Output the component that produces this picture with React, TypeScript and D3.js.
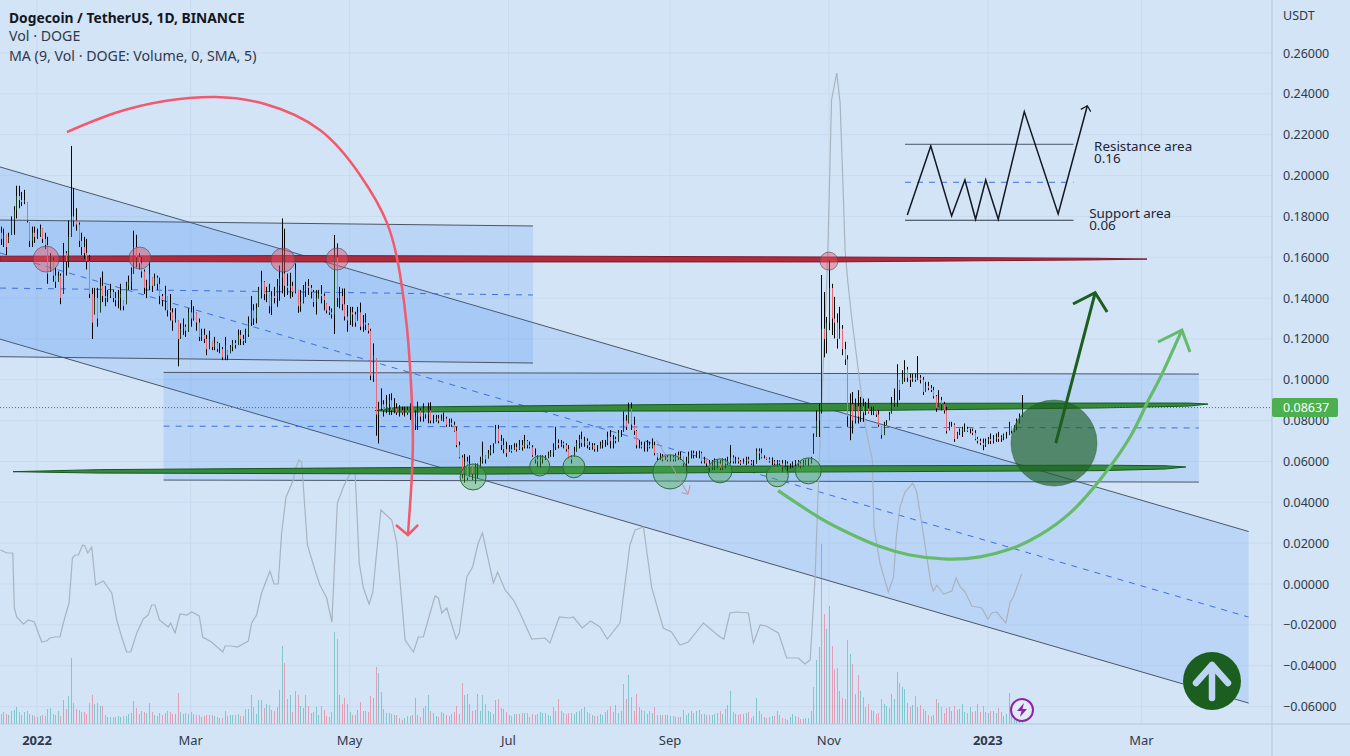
import * as d3 from "d3";

const WIDTH = 1350;
const HEIGHT = 756;
const PLOT_RIGHT = 1272;
const PLOT_BOTTOM = 724;

// candles, in 1/1000 USDT, first bar is 18 Dec 2021
const highs = [
  175,174,171,172,180,185,195,195,192,193,
  187,177,175,175,174,176,174,172,170,162,
  160,155,153,152,167,163,178,214.5,194,184,
  177,172,170,169,161,145,145,145,150,153,
  146,144,147,144,143,144,147,139,148,151,
  155,173,171,162,160,154,149,158,150,152,
  151,150,142,146,141,142,135,135,129,127.6,
  130,127,135,139,136,133,130,125,125,122,
  124,119,121,118.6,118,116,121,114.5,117,119.4,
  119.4,124.6,124.3,122,125,131,141,137,137.4,145.5,
  153.4,148.3,145.5,147,143.4,145.5,149.3,156,179,174,
  152,152.4,148,157,144,144,146.4,148,149.3,146.4,
  144,143.9,144,146.4,142.3,137.4,136,135,170.9,166.8,
  145.5,144.7,144.7,136.6,135.7,135.7,133.3,135.7,137.8,131.7,
  132.5,127.6,125,117.8,110.4,89.2,
  95.8,90,92.5,93,93.4,91,88.5,87.6,86.8,86.8,
  86.8,88.5,88.5,85,89.3,86,88.5,85,88.8,89,
  82.8,82.8,82.8,83,83.9,81.9,81,81,79.5,77,
  69.7,63,63.6,62.3,63,58.3,59,59,62.3,69.7,
  63,65.6,68,68.9,77.9,77.9,73,71.3,69.7,68,
  68,68.9,68.9,70.5,70.5,73,70.5,69.7,68,66.4,
  63,63,63,63,64.8,65.6,68.9,77,70.8,70.5,
  69.7,68.9,68,63,67.2,70.5,73,74.6,72.1,71.3,
  69.7,69,68.9,68,69.7,70.5,70.5,74.6,75.4,73,
  72.1,75.4,75.4,84.4,82.8,88.8,88.8,81.9,75.4,70.5,
  69.7,69.7,70.5,69.7,71.3,69.7,64,64,63.6,63.6,
  63,63,63,64,64.8,64.8,62.3,62.3,64.8,65.3,
  65.3,65,65.3,64.8,62.3,60.7,60.7,60.7,61.5,60.7,
  60.7,61.5,61.5,62.3,68,63,62.3,62,60.7,61.5,
  62.3,62.3,60.7,60.7,66.4,66.4,66.4,63,62,62,
  62,60.7,60.7,60.5,60.7,60.7,60,59,60,60.7,
  60.7,60,60.7,61,61.5,62.3,
  73.7,85,88.4,151.3,143,130.8,158.6,147,140.6,132.5,
  135.7,126.8,118.6,112,93.3,94,90.8,94.9,91.6,90.8,
  89.2,90.8,86.8,86.8,85,85,77,79.4,80.2,84.3,
  91.6,95.7,107.6,99.8,104.7,109.6,106.3,103,103,103,
  111.6,102.3,101.4,99,99,97.4,96.5,92.5,94.9,91.6,
  89.2,86.8,79.4,79.4,78.6,74.5,76.1,77,78.6,77,
  76.1,76.1,75.3,72,71.2,71.2,71.2,72,73.7,72.9,
  73.7,74.5,72.9,73.7,74.5,79.4,77,77.8,81,83.5,
  92.5,
];
const lows = [
  166,165,161,167,171,171,179,184,185,186,
  177,165,165,167,169,170,167,164,147,153,
  148,145,148,137,142,151,155,170,175,173,
  165,161,159,154,140,120,132,126,133,138,
  136,138,140,138,136,135,134,134,137,144,
  144,152,155,154,150,142,140,144,143,146,
  144,137,136,134,131,129,124,128,106.6,120,
  122,121,123.5,126,129,124,119,119,118,112,
  115,114.5,114.5,113.7,113,109.6,109.6,109.6,113,114,
  115.3,117,117,117,118,121,126.4,126.8,127.6,135.7,
  139.8,139,138,132.5,131.7,137.4,135.7,138.7,142.3,140.6,
  141.5,139.8,140.6,142.3,132.8,133.3,137.4,140.6,141.5,139.8,
  135.7,132,139.8,137.4,134,132.5,131.7,130,122.4,135.7,
  135,134,129,123.5,126.8,126,126,129,124.3,123.5,
  124.3,122.7,99.8,99,72.6,68.8,
  85,82,83.6,82.8,82.8,83.6,82.8,82,82.8,82,
  82.8,80.3,75.4,75.4,75.4,79.5,79.5,81,78.7,78.7,
  78.7,79.5,78.7,80,79.5,77,77,77,74.6,67,
  61.5,51.7,49.6,50.9,52.5,50.9,49,51.7,56.6,59,
  59,61.5,63,64,68.9,68.9,65.6,64,62.3,64.8,
  64.3,65.6,64.8,65.6,65.3,66.4,66.4,66.4,62.3,59,
  57.4,57,59,60.7,61.5,62.3,62.3,65.6,66.4,67.2,
  66.4,64.8,61.5,59,62.3,64.8,66.4,67.2,67.2,66.4,
  65.6,65.8,64.8,64.8,66.4,66.4,67.2,68,66.4,66.4,
  68.9,69.7,72,74.6,75.4,78.7,75.4,73,66.4,66.4,
  66.4,64.8,64.8,66.4,66.4,63,60.7,60.7,60,60.7,
  60,60,60,60,60.7,60.7,57.4,55,59,61.5,
  61.5,61.8,61.5,59,59,57.4,55,55.8,55.8,56.6,
  55.8,55.8,56.6,58.2,59,59,59,59,58.2,59,
  58.2,59,58.2,57.8,59,60.7,61.5,61.5,60.7,59.4,
  58.2,57.4,57.4,58,55,57.4,54.2,56.6,57,57.8,
  57.4,56.6,57.4,58.2,57.8,59,
  63.9,72,72,83.5,111,112.9,124.3,121.9,120.2,115.3,
  120.2,112,107.2,77,70.4,73.7,78.6,78.6,79.4,79.4,
  82.7,83.5,82.7,82.7,81.8,77,71.2,72.9,77.8,80.2,
  83.5,86.8,86.8,90,98,99,99,96.5,99,99,
  99.8,98.2,92.5,94,94.9,94,90.8,84.3,86.8,85,
  83.5,73.7,75.3,77,69.6,71.2,72.9,72,74.5,74.5,
  73.7,72.9,70.4,68.8,68,65.5,67.1,68.5,68.5,68.8,
  69.6,69.6,69.6,70.4,71.2,72.9,73.7,74.5,75.3,78.6,
  81.8,
];
const closes = [
  169,171,165,170,178,183,190,188,187,188,
  178,168,172,170,171,174,169,166,152,158,
  151,148,151,140,162,158,170,180,178,176,
  168,165,162,158,142,128,140,130,146,141,
  140,141,143,140,139,140,142,136,146,148,
  152,165,160,157,153,145,146,152,146,150,
  147,141,139,142,134,133,129,130,120,125,
  126,124,133,130,133,128,121,122,120,115,
  120,116,118,115,115,111,117,112,116,118,
  117,122,120,119,122,128,134,130,135,144,
  148,142,143,136,141,140,146,150,152,146,
  145,146,143,154,136,138,144,146,145,143,
  138,140,142,141,139,134,133,132,160,140,
  141,137,131,129,133,132,128,133,126,128,
  127,124,102,112,83,86,
  88,85,88,90,85,86,84,85,84,85,
  84,85,78,82,85,82,86,83,85,80,
  80,81,80,81,81,78,79,78,75,68,
  62,54,60,52,59,54,57,57,60,63,
  61,64,66,67,76,70,68,66,64,66,
  65,67,66,68,67,70,68,67,63,61,
  60,61,62,62,63,64,67,69,68,69,
  68,66,62,61,65,69,71,69,70,68,
  67,68,66,66,68,69,69,72,70,71,
  70,74,74,80,77,86,78,75,68,68,
  67,67,68,67,68,64,62,62,61,62,
  61,62,61,63,62,63,59,60,63,64,
  63,63,64,60,61,59,57,58,59,59,
  57,60,59,60,62,60,61,60,59,60,
  61,60,59,59,65,64,62,62,61,60,
  60,59,60,59,58,59,58,58,59,60,
  59,58,59,60,60,61,
  72,80,85,125,120,128,145,130,128,120,
  125,115,110,82,88,80,87,82,87,84,
  86,84,84,85,83,78,73,78,79,83,
  88,90,102,95,101,105,101,100,101,100,
  101,100,94,97,96,95,92,86,90,88,
  85,75,78,78,71,74,75,76,76,75,
  75,74,71,70,69,68,70,71,70,71,
  72,71,72,73,73,77,75,77,80,82,
  86.37,
];
const firstOpen = 172;

// volume, in hundreds of millions of DOGE
const volumes = [
  10,12,10,9,13,14,17,12,9,12,
  13,10,9,8,7,8,9,8,15,16,
  10,9,13,8,24,15,28,66,21,15,
  14,12,12,10,21,29,20,21,18,18,
  9,7,7,7,7,8,7,8,8,10,
  11,23,16,10,13,12,11,21,12,9,
  8,11,9,11,13,12,10,10,31,12,
  10,11,10,12,10,9,9,7,8,9,
  9,9,8,7,6,6,13,8,9,9,
  9,10,8,8,15,15,29,17,10,24,
  24,16,20,19,14,13,17,34,78,61,
  25,29,12,33,29,18,16,29,18,11,
  12,17,9,18,14,8,7,12,92,85,
  29,20,26,20,12,9,9,14,22,13,
  13,12,28,26,57,51,32,15,11,11,
  10,9,9,6,4,6,8,8,9,26,
  9,7,16,18,29,13,11,8,7,12,
  11,9,8,10,12,18,10,41,29,30,
  20,13,14,30,13,29,20,13,12,10,
  24,25,16,15,12,9,8,10,10,10,
  11,11,11,7,10,9,10,12,11,11,
  9,8,17,13,25,13,11,10,11,11,
  10,12,13,15,17,12,11,9,8,8,
  10,9,12,14,18,12,19,11,13,40,
  25,49,27,13,30,17,14,13,10,13,
  11,17,9,9,9,9,9,8,8,7,
  7,7,14,9,11,13,11,13,14,10,
  10,9,9,9,10,11,13,10,15,19,
  33,12,10,9,10,10,11,12,6,8,
  26,13,10,7,6,7,8,8,13,9,
  6,5,4,7,10,8,7,5,5,6,
  6,13,37,64,77,180,110,95,118,78,
  55,56,33,26,25,84,70,60,30,49,
  33,27,17,20,14,13,10,11,25,20,
  18,16,30,25,52,41,37,35,21,17,
  19,28,17,19,15,13,9,8,9,25,
  21,17,11,16,17,13,18,14,15,20,
  12,11,17,12,13,20,12,18,12,11,
  13,13,11,16,12,8,10,31,13,9,
  6,6,4,
];

// MA of the volume, read at its turning points
const maDays = [
  0,2.4,4.7,5.3,6.2,8.8,10.7,13,15.8,17.7,19,20.9,22.8,24.1,26.3,27.6,28.6,29.9,31.5,32.4,33.5,35,36.5,39.5,42.7,44.6,46.5,48.4,50,52.3,
  54.8,56.7,58,59.3,61,64.4,65.3,67,68.9,71.5,73.4,76.3,77.6,81,85.3,86.2,88.7,90.9,95.1,96.4,98.3,100.2,103.4,105,106.6,107.9,109.6,112.4,113,114.6,
  115.6,117.8,120.7,122.6,125.2,127.2,129.3,131.6,134.2,136.1,137.7,139.3,141.5,142.9,146,150.2,152.1,155.3,158.5,160.4,162.3,164.9,166.8,168.1,169.4,171.3,174.9,176.1,179,181.2,
  183.4,185,189.2,190.8,193.7,196.9,199.4,203.9,209,210.9,214.5,218.3,219.9,223.3,226.5,230.1,232.9,237.8,241.6,243.6,246.8,250,254.4,257.6,260.8,264,269.8,276.2,277.7,280,
  282.6,287.1,289,291.6,293.9,298.6,301.8,306.3,308.8,310.8,312.7,314.3,317.5,319,321,322.3,323.5,324.2,325.3,326.7,329.9,332.2,334.7,335.3,337.6,340.8,342.8,344,345.3,347.2,
  350.2,351.7,353.6,357.1,358.1,359.4,362,365.2,366.8,368.4,370.3,372.8,376.7,379,380.5,382.4,385.9,387.6,388.8,392,
];
const maValues = [
  17.5,17.2,17.2,11.7,10.8,10.1,10.5,10.3,8.3,8.4,8.7,8.8,8.8,10.2,12.2,16.7,17,17,18,17.9,17.2,17.8,14,14.4,13.2,10.5,8.8,7.3,7.3,9.2,
  10.6,11,12,12,10.5,9.8,10.2,9.2,11.1,11,11.3,10.9,8.8,8.3,7.3,7.9,7.9,7.8,8.4,10.2,11,13.2,15.4,14.1,14.1,19.2,22.8,24.5,25.5,26.5,
  26.3,18,15.5,14,12.7,10.3,22.2,23.8,25.2,25.3,16.2,13.7,12.1,13.3,21.5,20.5,18.2,8.5,7.3,8.8,8.8,11.2,12.9,12.7,11.2,11.7,8.6,9.2,14.8,15.8,
  18.2,19.2,14.2,15.3,13.5,12.5,11.2,8.6,8.7,8.2,10.8,10.7,10.8,9.7,10.4,9.8,8.6,10.2,18,19.5,19.8,13.7,9.7,9.3,8,8.3,10.2,8.8,8.6,11.2,
  11.3,11.2,8.2,10,9.9,9.2,6.7,6.7,6.1,6.5,14.8,26.5,46.5,62.5,65.2,62.2,53.2,47.5,44.2,40.8,34.2,29.5,26.5,19.8,16.2,13.3,14.8,19.2,21.8,23.3,
  24.2,23.3,20.2,14.2,13.4,14,13.1,13.4,14.7,13.8,13.3,11.9,11.7,10.6,11.2,11.3,10.2,12.3,12.8,15.1,
];

const priceTicks = d3.range(-60, 261, 20);
const lastPrice = 86.37;
const timeTickDays = [14, 73, 134, 195, 257, 318, 379, 438];
const timeTickLabels = ["2022", "Mar", "May", "Jul", "Sep", "Nov", "2023", "Mar"];
const boldTimeTicks = ["2022", "2023"];

// drawings on the chart, as [day, price] pairs
type Pt = [number, number];
const channelBig: Pt[][] = [[[-0.2, 204.2], [479.1, 25.7]], [[-0.2, 162.1], [479.1, -16.2]], [[-0.2, 119.9], [479.1, -58.3]]];
const channelLeft: Pt[][] = [[[-0.2, 178.2], [204.4, 175.3]], [[-0.2, 144.9], [204.4, 141.5]], [[-0.2, 111.3], [204.4, 108.2]]];
const channelLow: Pt[][] = [[[62.6, 103.6], [460, 102.8]], [[62.6, 77.3], [460, 76.4]], [[62.6, 50.9], [460, 49.9]]];

const redBar: Pt[] = [[-0.2, 160.5], [115, 160.8], [191.7, 160.6], [318.4, 160.1], [420, 159.5], [440.1, 159.1], [420, 158.7], [318.4, 157.7], [115, 157.7], [-0.2, 158]];
const greenBarTop: Pt[] = [[143.8, 84.9], [153, 86.6], [230, 87.6], [314.6, 88.4], [422, 88.6], [456, 88.6], [463.5, 88.1], [456, 87.1], [422, 86.2], [314.6, 84.7], [230, 84.7], [153, 84.2]];
const greenBarLow: Pt[] = [[4.8, 55], [38, 56], [187.9, 57.3], [306.9, 57.8], [422, 58.2], [447, 57.9], [455, 57.3], [447, 56.3], [422, 55.5], [306.9, 54.8], [187.9, 53.8], [38, 54.3]];

const pinkCircles: [number, number, number][] = [[17.5, 159.1, 13], [53.5, 159.6, 11], [108.4, 158.6, 12], [129.2, 159.1, 11], [318, 158.1, 9]];
const greenCircles: [number, number, number][] = [[181.4, 52.4, 13], [207, 57.8, 10], [220.1, 57.4, 11], [257, 54.9, 17], [276.2, 55.4, 12], [298.2, 53, 11], [310.1, 55.4, 13]];
const bigCircle: [number, number, number] = [404.4, 69, 43];

const redCurve: Pt[] = [[25.5, 221.3], [43.9, 230.6], [63.1, 236.5], [82.3, 238.5], [101.5, 235], [122.6, 222.3], [138, 200.3], [148.4, 176.7], [153.4, 151.3], [156.1, 124.4], [157.6, 97.4], [158.3, 70.5], [157.6, 46], [156.4, 24]];
const redHead: Pt[] = [[151.8, 28.9], [156.4, 24], [160.3, 28.9]];
const greenCurve: Pt[] = [[298.5, 45.7], [314.6, 32.3], [327.2, 24], [336.8, 18.7], [349.1, 14.2], [363.3, 12.2], [376, 13.3], [388.7, 17.6], [399, 24], [410.5, 34.7], [422, 50.9], [433.6, 72], [440.1, 88.6], [445.1, 100.8], [453.5, 124.3]];
const greenHead: Pt[] = [[444.3, 118.5], [453.5, 124.3], [456.6, 113.6]];
const darkArrow: Pt[] = [[405.1, 69], [420.2, 142.6]];
const darkHead: Pt[] = [[411.7, 137.1], [420.2, 142.6], [424.8, 133.2]];
const smallArrow: Pt[] = [[251.9, 70.5], [263.9, 44]];
const smallHead: Pt[] = [[261.5, 44.7], [263.9, 44], [264.7, 48.4]];

const patternTop: Pt[] = [[347.2, 215.3], [411.9, 215.3]];
const patternMid: Pt[] = [[347.2, 196.7], [411.9, 196.7]];
const patternLow: Pt[] = [[347.2, 178.1], [411.9, 178.1]];
const zigzag: Pt[] = [[348.1, 180.7], [357.1, 214.5], [365.1, 180.2], [370.2, 197.8], [374.3, 178.6], [378.2, 197.8], [383, 178.6], [393, 231.3], [406, 181.2], [417.2, 234.2]];
const zigzagHead: Pt[] = [[414.7, 232.4], [417.2, 234.2], [418.5, 231.3]];

const notes: [string, number, number][] = [
  ["Resistance area", 419.8, 212.2],
  ["0.16", 419.8, 206.3],
  ["Support area", 417.9, 179.4],
  ["0.06", 417.9, 173.5],
];

const FONT = "'Noto Sans', 'Open Sans', sans-serif";
const BG = "#d3e4f7";
const GRID = "#c9dbf0";
const TEXT = "#2f3a4a";

const x = d3.scaleLinear().domain([0, 424]).range([0.53, 0.53 + 424 * 2.605]);
const y = d3.scaleLinear().domain([0, 260]).range([584, 53]);
const volY = d3.scaleLinear().domain([0, 180]).range([PLOT_BOTTOM, PLOT_BOTTOM - 180]);
const maY = d3.scaleLinear().domain([0, 70]).range([725, 25]);

const pathOf = d3.line<Pt>().x((d) => x(d[0])).y((d) => y(d[1]));
const smoothOf = d3.line<Pt>().x((d) => x(d[0])).y((d) => y(d[1])).curve(d3.curveNatural);
const maPath = d3.line<number>().x((_, i) => x(maDays[i])).y((d) => maY(d));

const opens = [firstOpen, ...closes.slice(0, -1)];

function Channel({ lines }: { lines: Pt[][] }) {
  const [top, mid, low] = lines;
  const area = [top[0], top[1], low[1], low[0]];
  return (
    <g>
      <path d={pathOf(area) + "Z"} fill="rgba(40,130,240,0.14)" />
      <path d={pathOf(top)!} stroke="#4a5668" fill="none" />
      <path d={pathOf(low)!} stroke="#4a5668" fill="none" />
      <path d={pathOf(mid)!} stroke="#3f6fe0" strokeDasharray="6 6" fill="none" />
    </g>
  );
}

export default function App() {
  return (
    <svg
      width={WIDTH}
      height={HEIGHT}
      style={{ position: "absolute", left: 0, top: 0, background: BG, display: "block" }}
      fontFamily={FONT}
    >
      <defs>
        <clipPath id="plot">
          <rect x={0} y={0} width={PLOT_RIGHT} height={PLOT_BOTTOM} />
        </clipPath>
      </defs>

      {/* grid */}
      {priceTicks.map((t) => (
        <line key={t} x1={0} x2={PLOT_RIGHT} y1={y(t)} y2={y(t)} stroke={GRID} />
      ))}
      {timeTickDays.map((d) => (
        <line key={d} x1={x(d)} x2={x(d)} y1={0} y2={PLOT_BOTTOM} stroke={GRID} />
      ))}

      <g clipPath="url(#plot)">
        <Channel lines={channelBig} />
        <Channel lines={channelLeft} />
        <Channel lines={channelLow} />

        <path d={maPath(maValues)!} fill="none" stroke="#a9b3c0" strokeWidth={1.2} />

        {/* volume */}
        {volumes.map((v, i) => (
          <rect
            key={i}
            x={Math.round(x(i))}
            y={volY(v)}
            width={1}
            height={PLOT_BOTTOM - volY(v)}
            fill={closes[i] >= opens[i] ? "rgba(38,166,154,0.48)" : "rgba(239,83,110,0.48)"}
          />
        ))}

        <path d={pathOf(redBar) + "Z"} fill="#b02a3e" stroke="#7d1a2c" strokeWidth={1} />
        <path d={pathOf(greenBarTop) + "Z"} fill="#368a3c" stroke="#14591f" strokeWidth={1} />
        <path d={pathOf(greenBarLow) + "Z"} fill="#368a3c" stroke="#14591f" strokeWidth={1} />

        {/* price line */}
        <line x1={0} x2={PLOT_RIGHT} y1={y(lastPrice)} y2={y(lastPrice)} stroke="#5a6473" strokeDasharray="1 2" />

        {/* candles */}
        {closes.map((c, i) => {
          const px = Math.round(x(i));
          const hi = Math.min(highs[i], Math.max(opens[i], c));
          const lo = Math.max(lows[i], Math.min(opens[i], c));
          return (
            <g key={i}>
              <rect x={px} y={y(highs[i])} width={1} height={y(lows[i]) - y(highs[i])} fill="#050505" />
              <rect
                x={px}
                y={y(hi)}
                width={1}
                height={Math.max(0, y(lo) - y(hi))}
                fill={c >= opens[i] ? "#16401f" : "#ec6a78"}
              />
            </g>
          );
        })}

        {pinkCircles.map(([d, p, r]) => (
          <circle key={d} cx={x(d)} cy={y(p)} r={r} fill="rgba(239,83,100,0.45)" stroke="rgba(70,75,90,0.6)" />
        ))}
        {greenCircles.map(([d, p, r]) => (
          <circle key={d} cx={x(d)} cy={y(p)} r={r} fill="rgba(76,175,80,0.42)" stroke="#2f6a44" />
        ))}
        <circle cx={x(bigCircle[0])} cy={y(bigCircle[1])} r={bigCircle[2]} fill="rgba(27,94,32,0.65)" stroke="rgba(27,94,32,0.45)" />

        <path d={smoothOf(redCurve)!} fill="none" stroke="#f2596c" strokeWidth={2.5} />
        <path d={pathOf(redHead)!} fill="none" stroke="#f2596c" strokeWidth={2.5} />
        <path d={smoothOf(greenCurve)!} fill="none" stroke="#66bb6a" strokeWidth={3.2} />
        <path d={pathOf(greenHead)!} fill="none" stroke="#66bb6a" strokeWidth={3} />
        <path d={pathOf(darkArrow)!} fill="none" stroke="#1b5e20" strokeWidth={3} />
        <path d={pathOf(darkHead)!} fill="none" stroke="#1b5e20" strokeWidth={3} />
        <path d={pathOf(smallArrow)!} fill="none" stroke="#b09aa8" />
        <path d={pathOf(smallHead)!} fill="none" stroke="#d58a9a" />

        <path d={pathOf(patternTop)!} fill="none" stroke="#4a5668" />
        <path d={pathOf(patternLow)!} fill="none" stroke="#2f3a4a" />
        <path d={pathOf(patternMid)!} fill="none" stroke="#3f6fe0" strokeDasharray="6 6" />
        <path d={pathOf(zigzag)!} fill="none" stroke="#131722" strokeWidth={1.5} />
        <path d={pathOf(zigzagHead)!} fill="none" stroke="#131722" strokeWidth={1.2} />
        {notes.map(([t, d, p]) => (
          <text key={t} x={x(d)} y={y(p)} fontSize={13.4} fill="#1d2633">
            {t}
          </text>
        ))}

        {/* badges */}
        <g transform="translate(1212,681)">
          <circle r={29} fill="#1b5e20" />
          <path d="M0,17V-16M-16,2L0,-16L16,2" fill="none" stroke="#bdd5f0" strokeWidth={6.5} strokeLinecap="round" strokeLinejoin="round" />
        </g>
        <g transform="translate(1022,710)">
          <circle r={11} fill="#e2ecf8" stroke="#8e24aa" strokeWidth={2} />
          <path d="M2,-7L-5,1H-0.5L-2,7L5,-1H0.5Z" fill="#8e24aa" />
        </g>
      </g>

      {/* legend */}
      <text x={9} y={23} fontSize={13.8} fontWeight={700} fill="#131722">Dogecoin / TetherUS, 1D, BINANCE</text>
      <text x={9} y={41} fontSize={14.2} fill={TEXT}>Vol · DOGE</text>
      <text x={9} y={61} fontSize={14.2} fill={TEXT}>MA (9, Vol · DOGE: Volume, 0, SMA, 5)</text>

      {/* axes */}
      <line x1={PLOT_RIGHT} x2={PLOT_RIGHT} y1={0} y2={HEIGHT} stroke="#b4c7de" />
      <line x1={0} x2={WIDTH} y1={PLOT_BOTTOM} y2={PLOT_BOTTOM} stroke="#b4c7de" />
      <text x={1283} y={20} fontSize={12.5} fill={TEXT}>USDT</text>
      {priceTicks.map((t) => (
        <text key={t} x={1283} y={y(t) + 4.5} fontSize={12.5} fill={TEXT}>
          {d3.format(".5f")(t / 1000)}
        </text>
      ))}
      <rect x={PLOT_RIGHT} y={y(lastPrice) - 9.5} width={66} height={19} rx={2} fill="#4caf50" />
      <text x={1283} y={y(lastPrice) + 4.5} fontSize={12.5} fill="#fff">
        {d3.format(".5f")(lastPrice / 1000)}
      </text>
      {timeTickDays.map((d, i) => (
        <text
          key={d}
          x={x(d)}
          y={745}
          textAnchor="middle"
          fontSize={13}
          fontWeight={boldTimeTicks.includes(timeTickLabels[i]) ? 700 : 400}
          fill={TEXT}
        >
          {timeTickLabels[i]}
        </text>
      ))}
    </svg>
  );
}
